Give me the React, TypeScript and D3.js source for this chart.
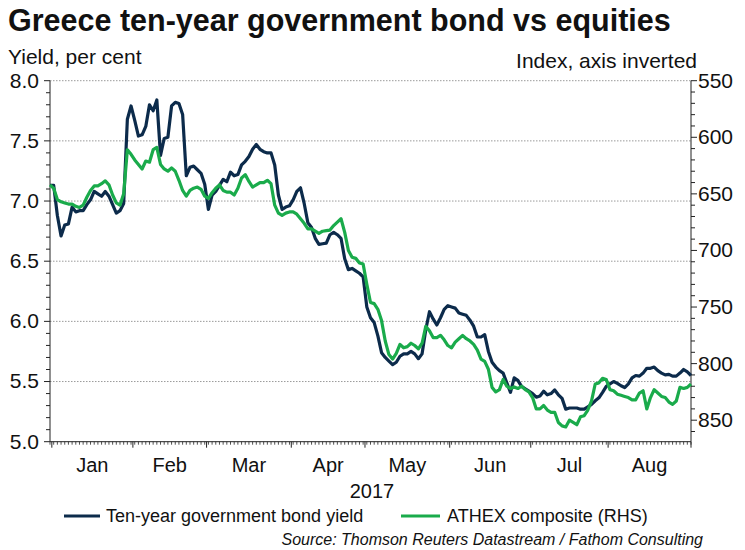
import React from "react";
import * as d3 from "d3";

const TITLE = "Greece ten-year government bond vs equities";
const LEFT_TITLE = "Yield, per cent";
const RIGHT_TITLE = "Index, axis inverted";
const SERIES_NAMES = ["Ten-year government bond yield", "ATHEX composite (RHS)"];
const SOURCE = "Source: Thomson Reuters Datastream / Fathom Consulting";
const YEAR_LABEL = "2017";
const LEFT_TICKS = [5.0, 5.5, 6.0, 6.5, 7.0, 7.5, 8.0];
const RIGHT_TICKS = [550, 600, 650, 700, 750, 800, 850];
const MONTH_LABELS = ["Jan", "Feb", "Mar", "Apr", "May", "Jun", "Jul", "Aug"];
const START_DATE = new Date(2016, 11, 30);
const END_DATE = new Date(2017, 8, 1);

// business days, 30 Dec 2016 .. 31 Aug 2017
const yieldValues = [
  7.13, 7.13, 6.88, 6.71, 6.80, 6.81, 6.95, 6.91, 6.92, 6.92,
  6.97, 7.01, 7.08, 7.06, 7.04, 7.08, 7.04, 6.97, 6.90, 6.92,
  6.98, 7.68, 7.79, 7.67, 7.54, 7.55, 7.62, 7.80, 7.75, 7.84,
  7.38, 7.52, 7.53, 7.79, 7.82, 7.81, 7.72, 7.21, 7.28, 7.29,
  7.26, 7.23, 7.14, 6.93, 7.05, 7.08, 7.13, 7.18, 7.16, 7.24,
  7.21, 7.22, 7.30, 7.33, 7.37, 7.43, 7.47, 7.43, 7.41, 7.40,
  7.40, 7.30, 7.05, 6.93, 6.95, 6.96, 7.01, 7.08, 7.11, 6.98,
  6.82, 6.78, 6.69, 6.64, 6.645, 6.65, 6.72, 6.74, 6.72, 6.69,
  6.52, 6.43, 6.44, 6.42, 6.40, 6.37, 6.12, 6.03, 5.99, 5.88,
  5.74, 5.70, 5.67, 5.64, 5.66, 5.71, 5.73, 5.73, 5.75, 5.73,
  5.69, 5.73, 5.93, 6.08, 6.02, 5.97, 6.03, 6.10, 6.13, 6.12,
  6.11, 6.07, 6.06, 6.05, 6.01, 5.96, 5.87, 5.87, 5.89, 5.75,
  5.66, 5.62, 5.59, 5.57, 5.49, 5.41, 5.53, 5.51, 5.46, 5.44,
  5.42, 5.40, 5.37, 5.38, 5.42, 5.39, 5.40, 5.43, 5.39, 5.36,
  5.27, 5.28, 5.28, 5.28, 5.27, 5.27, 5.29, 5.31, 5.34, 5.365,
  5.41, 5.46, 5.48, 5.50, 5.485, 5.465, 5.45, 5.48, 5.53, 5.55,
  5.545, 5.57, 5.61, 5.61, 5.62, 5.59, 5.57, 5.555, 5.56, 5.545,
  5.545, 5.57, 5.60, 5.58, 5.55,
];

const athexValues = [
  642, 645, 655, 657, 658, 659, 659, 661, 662, 660,
  653, 647, 643, 643, 641, 638.5, 642, 651, 658, 660,
  650, 611, 615, 620, 624, 628, 621, 622, 611, 609,
  624, 628, 630, 627, 630, 638, 647, 652, 647, 645,
  644, 646, 652, 654, 649, 645, 642, 647, 648.5, 648.5,
  651, 645, 636, 633, 639, 644, 642, 640, 640, 638,
  641, 660, 667, 669, 667, 666, 666, 668, 672, 676,
  681, 681, 683, 685, 683, 682.5, 682, 678, 675, 672,
  684, 700, 706, 707, 711, 712, 730, 746, 747, 752,
  762, 780, 792, 796, 791, 783, 786, 785, 782, 784,
  787, 782, 767, 771, 777, 777, 775, 779, 784, 786,
  781, 778, 775, 778, 780, 783, 788, 796, 798, 805,
  821, 825, 823, 814, 820, 822, 820.6, 822, 820, 823,
  825, 830, 840, 840, 837, 841, 843, 843, 852, 855,
  856, 850, 852, 854, 847, 846, 841, 833, 818, 817,
  813, 814, 823, 824, 827, 828, 829, 830, 832, 832,
  826, 824, 840, 830, 823, 826, 829, 830, 834, 836,
  833, 821, 822, 821, 818,
];

const W = 745;
const H = 550;
const PLOT = { left: 50, right: 691, top: 80.7, bottom: 441.7 };
const NAVY = "#0c2b4b";
const GREEN = "#1aab4b";
const INK = "#111111";
const FONT = "'Liberation Sans', Arial, Helvetica, sans-serif";

export default function App() {
  const dates = d3.timeDay
    .range(START_DATE, END_DATE)
    .filter((d) => d.getDay() !== 0 && d.getDay() !== 6);
  const n = dates.length;

  const x = d3.scaleLinear().domain([0, n - 1]).range([PLOT.left, PLOT.right]);
  const yL = d3.scaleLinear().domain([5, 8]).range([PLOT.bottom, PLOT.top]);
  const yR = d3.scaleLinear().domain([550, 869]).range([PLOT.top, PLOT.bottom]);

  const monthStarts: number[] = [];
  dates.forEach((d, i) => {
    if (i > 0 && d.getMonth() !== dates[i - 1].getMonth()) monthStarts.push(i);
  });
  const bounds = [...monthStarts.map((i) => i - 0.5), n - 1];
  const monthMids = MONTH_LABELS.map((_, k) => (bounds[k] + bounds[k + 1]) / 2);

  const lineY = d3
    .line<number>()
    .x((_, i) => x(i))
    .y((v) => yL(v));
  const lineA = d3
    .line<number>()
    .x((_, i) => x(i))
    .y((v) => yR(v));

  const leftMinor = d3.range(5, 8.0001, 0.1);
  const rightMinor = d3.range(550, 869, 10);

  return (
    <svg
      width={W}
      height={H}
      viewBox={`0 0 ${W} ${H}`}
      style={{ position: "absolute", left: 0, top: 0, background: "#fff", fontFamily: FONT }}
    >
      <rect x={0} y={0} width={W} height={H} fill="#fff" />
      <text x={8} y={31} fontSize={30.5} fontWeight="bold" fill={INK}>
        {TITLE}
      </text>
      <text x={8} y={64} fontSize={21} fill={INK}>
        {LEFT_TITLE}
      </text>
      <text x={697} y={68} fontSize={21} fill={INK} textAnchor="end">
        {RIGHT_TITLE}
      </text>

      {LEFT_TICKS.filter((t) => t > 5).map((t) => (
        <line
          key={"g" + t}
          x1={PLOT.left}
          x2={PLOT.right}
          y1={yL(t)}
          y2={yL(t)}
          stroke="#9a9a9a"
          strokeWidth={1}
          strokeDasharray="1.5,1.5"
        />
      ))}

      <line x1={PLOT.left} x2={PLOT.left} y1={PLOT.top} y2={PLOT.bottom} stroke="#222" strokeWidth={1} />
      {leftMinor.map((t, k) => (
        <line
          key={"lm" + k}
          x1={PLOT.left - (k % 5 === 0 ? 6 : 4)}
          x2={PLOT.left}
          y1={yL(t)}
          y2={yL(t)}
          stroke="#222"
          strokeWidth={1}
        />
      ))}
      {LEFT_TICKS.map((t) => (
        <text key={"lt" + t} x={39} y={yL(t)} dy="0.33em" fontSize={21} fill={INK} textAnchor="end">
          {d3.format(".1f")(t)}
        </text>
      ))}

      <line x1={PLOT.right} x2={PLOT.right} y1={PLOT.top} y2={PLOT.bottom} stroke="#222" strokeWidth={1} />
      {rightMinor.map((t, k) => (
        <line
          key={"rm" + k}
          x1={PLOT.right}
          x2={PLOT.right + (k % 5 === 0 ? 6 : 4)}
          y1={yR(t)}
          y2={yR(t)}
          stroke="#222"
          strokeWidth={1}
        />
      ))}
      {RIGHT_TICKS.map((t) => (
        <text key={"rt" + t} x={698} y={yR(t)} dy="0.33em" fontSize={21} fill={INK}>
          {t}
        </text>
      ))}

      <line x1={PLOT.left} x2={PLOT.right} y1={PLOT.bottom} y2={PLOT.bottom} stroke="#222" strokeWidth={1} />
      {dates.map((_, i) => (
        <line
          key={"bm" + i}
          x1={x(i)}
          x2={x(i)}
          y1={PLOT.bottom}
          y2={PLOT.bottom + 3}
          stroke="#222"
          strokeWidth={0.8}
        />
      ))}
      {bounds.map((b, k) => (
        <line
          key={"bb" + k}
          x1={x(b)}
          x2={x(b)}
          y1={PLOT.bottom}
          y2={PLOT.bottom + 6}
          stroke="#222"
          strokeWidth={1}
        />
      ))}
      {MONTH_LABELS.map((m, k) => (
        <text key={m} x={x(monthMids[k])} y={472} fontSize={20} fill={INK} textAnchor="middle">
          {m}
        </text>
      ))}
      <text x={372} y={498} fontSize={20} fill={INK} textAnchor="middle">
        {YEAR_LABEL}
      </text>

      <path d={lineY(yieldValues) || ""} fill="none" stroke={NAVY} strokeWidth={3.2} strokeLinejoin="round" />
      <path d={lineA(athexValues) || ""} fill="none" stroke={GREEN} strokeWidth={3.2} strokeLinejoin="round" />

      <line x1={64} x2={100} y1={516} y2={516} stroke={NAVY} strokeWidth={3.2} />
      <text x={106} y={522} fontSize={18} fill={INK}>
        {SERIES_NAMES[0]}
      </text>
      <line x1={401} x2={440} y1={516} y2={516} stroke={GREEN} strokeWidth={3.2} />
      <text x={447} y={522} fontSize={18} fill={INK}>
        {SERIES_NAMES[1]}
      </text>
      <text x={703} y={545} fontSize={16} fontStyle="italic" fill={INK} textAnchor="end">
        {SOURCE}
      </text>
    </svg>
  );
}
